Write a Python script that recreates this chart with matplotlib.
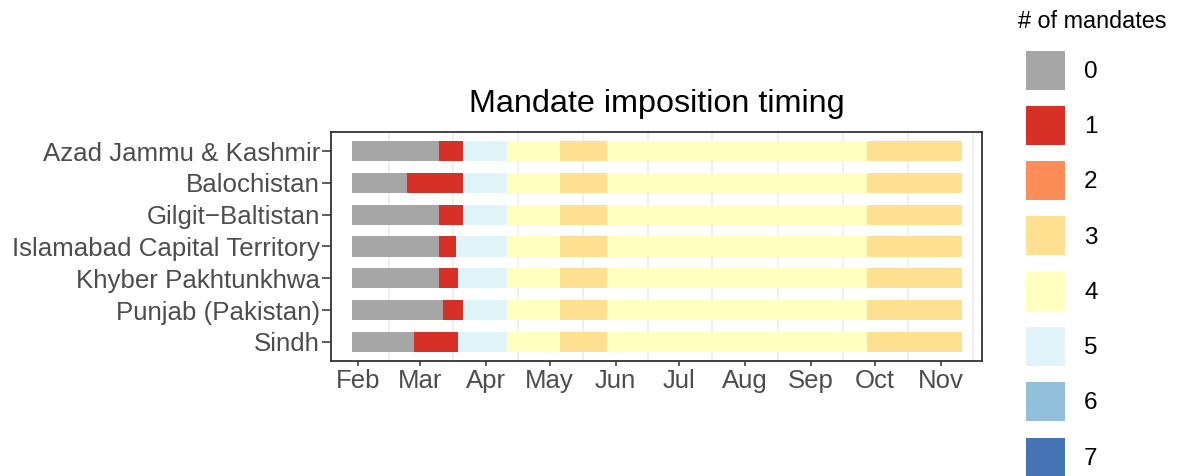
import numpy as np
import matplotlib
matplotlib.use("Agg")
import matplotlib.pyplot as plt
import matplotlib.dates as mdates
from matplotlib.patches import Patch

plt.rcParams['font.family'] = ['Liberation Sans', 'DejaVu Sans']

# data
regions = ["Azad Jammu & Kashmir", "Balochistan", "Gilgit\u2212Baltistan",
           "Islamabad Capital Territory", "Khyber Pakhtunkhwa",
           "Punjab (Pakistan)", "Sindh"]

timeline_start = "2020-01-29"
timeline_end = "2020-11-11"
# date each region moved from 0 to 1 mandate
first_mandate = ["2020-03-10", "2020-02-24", "2020-03-10", "2020-03-10",
                 "2020-03-10", "2020-03-12", "2020-02-27"]
# date each region moved from 1 to 5 mandates
five_mandates = ["2020-03-21", "2020-03-21", "2020-03-21", "2020-03-18",
                 "2020-03-19", "2020-03-21", "2020-03-19"]
# later changes shared by every region (5->4, 4->3, 3->4, 4->3)
later_changes = ["2020-04-11", "2020-05-06", "2020-05-28", "2020-09-27"]
# number of mandates in each period
level_seq = [0, 1, 5, 4, 3, 4, 3]

mandate_levels = [0, 1, 2, 3, 4, 5, 6, 7]
level_colors = ["#A6A6A6", "#D73027", "#FC8D59", "#FEE090",
                "#FFFFBF", "#E0F3F8", "#91BFDB", "#4575B4"]

W, H = 1179, 476
fig = plt.figure(figsize=(W / 100, H / 100), dpi=100)
ax = fig.add_axes([331 / W, 1 - 361 / H, (982 - 331) / W, (361 - 132) / H])

def to_num(d):
    return mdates.date2num(np.datetime64(d))

for i, region in enumerate(regions):
    bounds = [timeline_start, first_mandate[i], five_mandates[i]] + later_changes + [timeline_end]
    bounds = [to_num(b) for b in bounds]
    for k, lvl in enumerate(level_seq):
        ax.barh(i, bounds[k + 1] - bounds[k], left=bounds[k], height=0.63,
                color=level_colors[lvl], linewidth=0, zorder=2)

# axes styling
ax.set_yticks(range(len(regions)), regions)
ax.xaxis.set_major_locator(mdates.MonthLocator())
ax.xaxis.set_major_formatter(mdates.DateFormatter('%b'))
month_starts = mdates.date2num(np.arange(np.datetime64("2020-01"), np.datetime64("2021-01"),
                                         np.timedelta64(1, "M")).astype("datetime64[D]"))
ax.set_xticks((month_starts[:-1] + month_starts[1:]) / 2, minor=True)
ax.grid(which='minor', axis='x', color='#EBEBEB', linewidth=1.1, zorder=0)
ax.set_axisbelow(True)

feb1 = to_num("2020-02-01")
ax.set_xlim(feb1 - 12.84, feb1 + 293.3)
ax.set_ylim(6.6, -0.6)

for s in ax.spines.values():
    s.set_color('#333333')
    s.set_linewidth(1.3)
ax.tick_params(axis='x', which='major', length=3.9, width=1.1, color='#333333',
               labelsize=18.5, labelcolor='#4D4D4D', pad=2)
ax.tick_params(axis='y', which='major', length=6.2, width=1.1, color='#333333',
               labelsize=18.6, labelcolor='#4D4D4D', pad=1.8)
ax.tick_params(axis='x', which='minor', length=0)

ax.set_title("Mandate imposition timing", fontsize=23.3, pad=14.4)

# legend
handles = [Patch(facecolor=c, edgecolor='none') for c in level_colors]
ax.legend(handles, [str(n) for n in mandate_levels], loc='upper left',
          bbox_to_anchor=(1025.7 / W, 1 - 50.7 / H), bbox_transform=fig.transFigure,
          frameon=False, borderpad=0, borderaxespad=0, fontsize=17.5,
          handlelength=1.6, handleheight=2.09, labelspacing=0.67, handletextpad=0.8)
fig.text(1018 / W, 1 - 28 / H, "# of mandates", fontsize=16.8, ha='left', va='baseline')

fig.savefig("out.png", dpi=100)
